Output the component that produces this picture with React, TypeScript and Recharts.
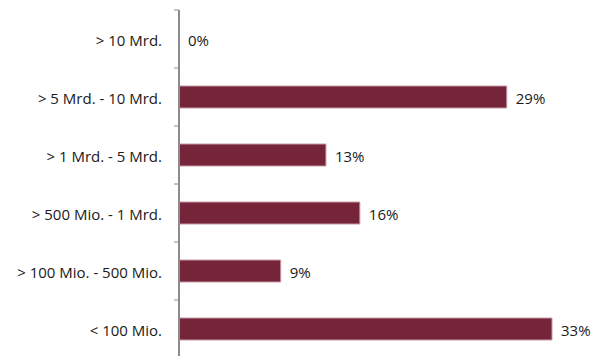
import React from 'react';
import { BarChart, Bar, XAxis, YAxis, LabelList, Cell } from 'recharts';

const categories = ['> 10 Mrd.', '> 5 Mrd. - 10 Mrd.', '> 1 Mrd. - 5 Mrd.', '> 500 Mio. - 1 Mrd.', '> 100 Mio. - 500 Mio.', '< 100 Mio.'];
const shares = [0, 29, 13, 16, 9, 33];

const data = categories.map((name, i) => ({ name, value: shares[i] }));

const FONT = '"Open Sans", "Noto Sans", sans-serif';

// category label plus a small tick on the top band boundary (like the source chart)
const CategoryTick = (props: any) => {
  const { x, y, payload } = props;
  const half = payload && payload.offset ? payload.offset : 29;
  return (
    <g>
      <line x1={x - 5} x2={x} y1={y - half} y2={y - half} stroke="#8c8c8c" strokeWidth={1} />
      <text x={x - 17} y={y} dy={7} textAnchor="end" fill="#1a1a1a" fontSize={15} fontFamily={FONT}>
        {payload.value}
      </text>
    </g>
  );
};

const ValueLabel = (props: any) => {
  const { x, y, width, height, value } = props;
  return (
    <text x={x + width + 9} y={y + height / 2} dy={7} fill="#1a1a1a" fontSize={15} fontFamily={FONT}>
      {`${value}%`}
    </text>
  );
};

export default function App() {
  return (
    <div style={{ position: 'absolute', left: 0, top: 0, width: 600, height: 356, background: '#fff' }}>
      <BarChart
        width={600}
        height={356}
        data={data}
        layout="vertical"
        margin={{ top: 10, right: 48, bottom: -2, left: 0 }}
        barSize={22}
      >
        <XAxis type="number" domain={[0, 33]} hide />
        <YAxis
          type="category"
          dataKey="name"
          width={179}
          axisLine={{ stroke: '#8c8c8c', strokeWidth: 2 }}
          tickLine={false}
          tickSize={0}
          tick={<CategoryTick />}
          tickMargin={0}
          interval={0}
        />
        <Bar dataKey="value" fill="#76243a" stroke="#c99aa6" strokeWidth={1} minPointSize={0.01} isAnimationActive={false}>
          {data.map((d) => (
            <Cell key={d.name} stroke={d.value === 0 ? 'none' : '#c99aa6'} />
          ))}
          <LabelList dataKey="value" content={<ValueLabel />} />
        </Bar>
      </BarChart>
    </div>
  );
}
